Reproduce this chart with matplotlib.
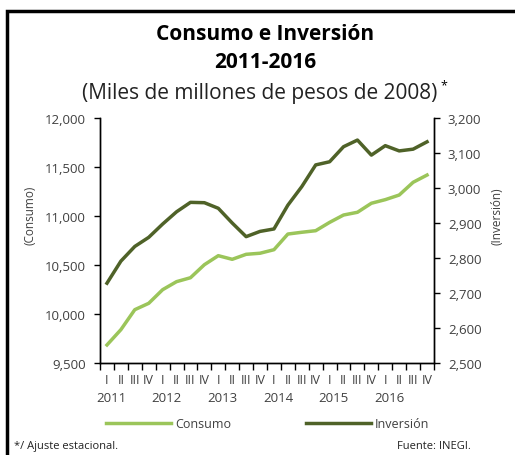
import numpy as np
import matplotlib.pyplot as plt
from matplotlib.patches import Rectangle

plt.rcParams['font.family'] = ['Open Sans', 'DejaVu Sans']

quarters = ['I', 'II', 'III', 'IV'] * 6
years = ['2011', '2012', '2013', '2014', '2015', '2016']

consumo = [9684, 9840, 10044, 10109, 10248, 10330, 10370, 10503,
           10595, 10558, 10609, 10620, 10656, 10816, 10834, 10850,
           10935, 11010, 11038, 11130, 11167, 11214, 11344, 11418]
inversion = [2728, 2791, 2833, 2859, 2897, 2932, 2959, 2958,
             2942, 2900, 2861, 2876, 2883, 2951, 3004, 3066,
             3075, 3118, 3137, 3094, 3121, 3106, 3111, 3132]

light = '#9BC55A'
dark = '#4F6228'
grey = '#404040'

fig = plt.figure(figsize=(5.15, 4.56), dpi=100)
ax = fig.add_axes([0.1942, 0.2018, 0.6485, 0.5372])
ax2 = ax.twinx()

x = np.arange(len(consumo)) + 0.5
l1, = ax.plot(x, consumo, color=light, lw=2.5, label='Consumo')
l2, = ax2.plot(x, inversion, color=dark, lw=2.5, label='Inversión')

ax.set_xlim(0, 24)
ax.set_ylim(9500, 12000)
ax.set_yticks(np.arange(9500, 12001, 500))
ax.set_yticklabels([f'{v:,}' for v in range(9500, 12001, 500)])
ax2.set_ylim(2500, 3200)
ax2.set_yticks(np.arange(2500, 3201, 100))
ax2.set_yticklabels([f'{v:,}' for v in range(2500, 3201, 100)])

ax.set_xticks(np.arange(0, 25))
ax.set_xticklabels([])
ax.set_xticks(x, minor=True)
ax.set_xticklabels(quarters, minor=True)
ax.tick_params(axis='x', which='major', length=5, direction='out', width=1)
ax.tick_params(axis='x', which='minor', length=0, pad=7, labelsize=9, labelcolor=grey)
ax.tick_params(axis='y', length=4, width=1, labelsize=9.5, labelcolor=grey, pad=6)
ax2.tick_params(axis='y', length=4, width=1, labelsize=9.5, labelcolor=grey, pad=6)

for a in (ax, ax2):
    a.spines['top'].set_visible(False)
    for s in ('left', 'right', 'bottom'):
        a.spines[s].set_linewidth(1)

for k, yr in enumerate(years):
    ax.text(4 * k + 0.8, -0.14, yr, transform=ax.get_xaxis_transform(),
            ha='center', va='center', fontsize=9.5, color=grey)

fig.text(0.058, 0.527, '(Consumo)', rotation=90, ha='center', va='center',
         fontsize=8.5, color=grey)
fig.text(0.965, 0.527, '(Inversión)', rotation=90, ha='center', va='center',
         fontsize=8.5, color=grey)

fig.text(0.515, 0.925, 'Consumo e Inversión', ha='center', va='center',
         fontsize=15, fontweight='bold')
fig.text(0.515, 0.864, '2011-2016', ha='center', va='center',
         fontsize=15, fontweight='bold')
fig.text(0.505, 0.795, '(Miles de millones de pesos de 2008)', ha='center',
         va='center', fontsize=15, color='#222222')
fig.text(0.862, 0.812, '*', ha='center', va='center', fontsize=9)

fig.legend(handles=[l1, l2], loc='center', bbox_to_anchor=(0.52, 0.068),
           ncol=2, frameon=False, handlelength=5.2, columnspacing=6,
           handletextpad=0.3, fontsize=9, labelcolor=grey)

fig.text(0.027, 0.02, '*/ Ajuste estacional.', ha='left', va='center',
         fontsize=8, color='#222222')
fig.text(0.915, 0.02, 'Fuente: INEGI.', ha='right', va='center',
         fontsize=8, color='#222222')

fig.add_artist(Rectangle((0.014, -0.05), 1.1, 1.024, transform=fig.transFigure,
                         fill=False, edgecolor='black', lw=2.5))

fig.savefig('out.png', dpi=100)
